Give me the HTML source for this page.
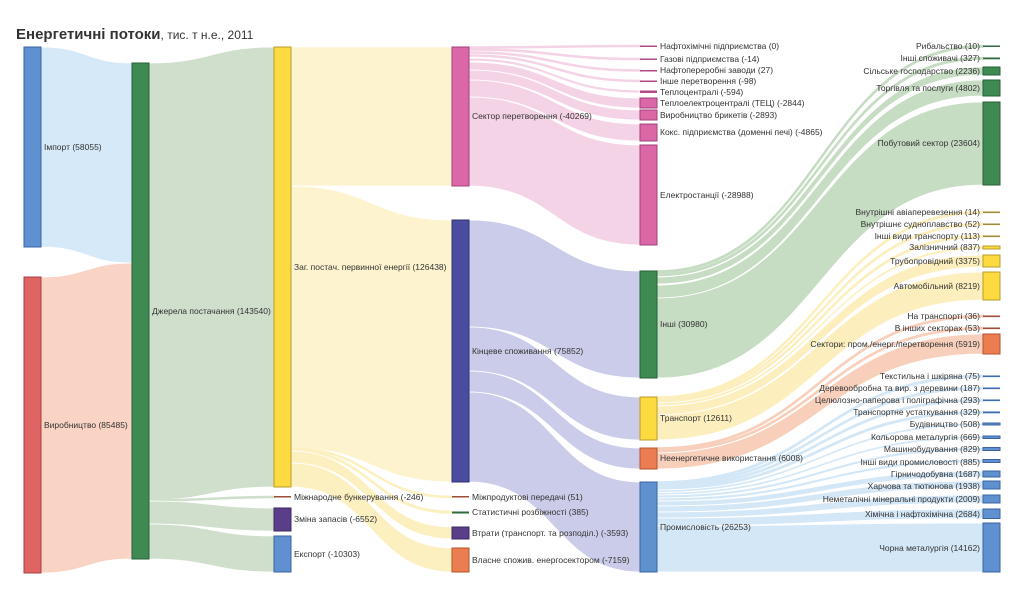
<!DOCTYPE html>
<html><head><meta charset="utf-8"><style>
body{margin:0;background:#fff}
svg{display:block;font-family:"Liberation Sans",Arial,sans-serif}
text{font-size:8.5px;fill:#333}
.l path{stroke:#fff;stroke-width:0.8}
.l path.t{stroke-width:1.6;stroke-opacity:1}
</style></head><body>
<svg width="1024" height="607" viewBox="0 0 1024 607">
<text x="16" y="39" style="font-size:15px;font-weight:bold;fill:#333">Енергетичні потоки<tspan style="font-size:12px;font-weight:normal">, тис. т н.е., 2011</tspan></text>
<g class="l">
<path fill="#d6e9f8" d="M41 47C86.5 47 86.5 63 132 63L132 263C86.5 263 86.5 247 41 247Z"/>
<path fill="#f9d3c4" d="M41 277C86.5 277 86.5 263 132 263L132 559C86.5 559 86.5 573 41 573Z"/>
<path fill="#cfdfcc" d="M149 63C211.5 63 211.5 47 274 47L274 487C211.5 487 211.5 500 149 500Z"/>
<path class="t" fill="#cfdfcc" style="stroke:#cfdfcc" d="M149 500C211.5 500 211.5 496.5 274 496.5L274 497.5C211.5 497.5 211.5 501 149 501Z"/>
<path fill="#cfdfcc" d="M149 501C211.5 501 211.5 508 274 508L274 531C211.5 531 211.5 524 149 524Z"/>
<path fill="#cfdfcc" d="M149 524C211.5 524 211.5 536 274 536L274 572C211.5 572 211.5 559 149 559Z"/>
<path fill="#fdf4cf" d="M291 47C371.5 47 371.5 47 452 47L452 186C371.5 186 371.5 186 291 186Z"/>
<path fill="#fdf4cf" d="M291 186C371.5 186 371.5 220 452 220L452 482C371.5 482 371.5 448 291 448Z"/>
<path class="t" fill="#fdf0c0" style="stroke:#fdf0c0" d="M291 448C371.5 448 371.5 496.5 452 496.5L452 497.5C371.5 497.5 371.5 449 291 449Z"/>
<path class="t" fill="#fdf0c0" style="stroke:#fdf0c0" d="M291 449.5C371.5 449.5 371.5 511.5 452 511.5L452 513C371.5 513 371.5 451 291 451Z"/>
<path fill="#fdf0c0" d="M291 451C371.5 451 371.5 527 452 527L452 539C371.5 539 371.5 463 291 463Z"/>
<path fill="#fdf0c0" d="M291 463C371.5 463 371.5 548 452 548L452 572C371.5 572 371.5 487 291 487Z"/>
<path class="t" fill="#f5d3e6" style="stroke:#f5d3e6" d="M469 47C554.5 47 554.5 45.5 640 45.5L640 46.5C554.5 46.5 554.5 48 469 48Z"/>
<path class="t" fill="#f5d3e6" style="stroke:#f5d3e6" d="M469 49C554.5 49 554.5 58.5 640 58.5L640 59.5C554.5 59.5 554.5 50 469 50Z"/>
<path class="t" fill="#f5d3e6" style="stroke:#f5d3e6" d="M469 52C554.5 52 554.5 70 640 70L640 71C554.5 71 554.5 53 469 53Z"/>
<path class="t" fill="#f5d3e6" style="stroke:#f5d3e6" d="M469 55C554.5 55 554.5 80.5 640 80.5L640 81.5C554.5 81.5 554.5 56 469 56Z"/>
<path fill="#f5d3e6" d="M469 58C554.5 58 554.5 90 640 90L640 93C554.5 93 554.5 61 469 61Z"/>
<path fill="#f5d3e6" d="M469 62C554.5 62 554.5 98 640 98L640 108C554.5 108 554.5 70 469 70Z"/>
<path fill="#f5d3e6" d="M469 70C554.5 70 554.5 110 640 110L640 120C554.5 120 554.5 80 469 80Z"/>
<path fill="#f5d3e6" d="M469 80C554.5 80 554.5 124 640 124L640 141C554.5 141 554.5 97 469 97Z"/>
<path fill="#f5d3e6" d="M469 97C554.5 97 554.5 145 640 145L640 245C554.5 245 554.5 186 469 186Z"/>
<path fill="#cbcce9" d="M469 220C554.5 220 554.5 271 640 271L640 378C554.5 378 554.5 327 469 327Z"/>
<path fill="#cbcce9" d="M469 327C554.5 327 554.5 397 640 397L640 440C554.5 440 554.5 371 469 371Z"/>
<path fill="#cbcce9" d="M469 371C554.5 371 554.5 448 640 448L640 469C554.5 469 554.5 392 469 392Z"/>
<path fill="#cbcce9" d="M469 392C554.5 392 554.5 482 640 482L640 572C554.5 572 554.5 482 469 482Z"/>
<path class="t" fill="#c6dcc3" style="stroke:#c6dcc3" d="M657 271C820 271 820 45.5 983 45.5L983 47C820 47 820 272.5 657 272.5Z"/>
<path class="t" fill="#c6dcc3" style="stroke:#c6dcc3" d="M657 274C820 274 820 57.5 983 57.5L983 59C820 59 820 275.5 657 275.5Z"/>
<path fill="#c6dcc3" d="M657 277C820 277 820 67 983 67L983 75C820 75 820 284 657 284Z"/>
<path fill="#c6dcc3" d="M657 285C820 285 820 80 983 80L983 96C820 96 820 298 657 298Z"/>
<path fill="#c6dcc3" d="M657 298C820 298 820 102 983 102L983 185C820 185 820 378 657 378Z"/>
<path class="t" fill="#fdefbd" style="stroke:#fdefbd" d="M657 397C820 397 820 211.5 983 211.5L983 212.8C820 212.8 820 398.3 657 398.3Z"/>
<path class="t" fill="#fdefbd" style="stroke:#fdefbd" d="M657 399C820 399 820 223.5 983 223.5L983 224.8C820 224.8 820 400.3 657 400.3Z"/>
<path class="t" fill="#fdefbd" style="stroke:#fdefbd" d="M657 401C820 401 820 235.5 983 235.5L983 236.8C820 236.8 820 402.3 657 402.3Z"/>
<path fill="#fdefbd" d="M657 403C820 403 820 246 983 246L983 249C820 249 820 406 657 406Z"/>
<path fill="#fdefbd" d="M657 406C820 406 820 255 983 255L983 267C820 267 820 415 657 415Z"/>
<path fill="#fdefbd" d="M657 415C820 415 820 272 983 272L983 300C820 300 820 440 657 440Z"/>
<path class="t" fill="#f8cfbb" style="stroke:#f8cfbb" d="M657 448C820 448 820 315.5 983 315.5L983 316.8C820 316.8 820 449.3 657 449.3Z"/>
<path class="t" fill="#f8cfbb" style="stroke:#f8cfbb" d="M657 450.5C820 450.5 820 327.5 983 327.5L983 328.8C820 328.8 820 451.8 657 451.8Z"/>
<path fill="#f8cfbb" d="M657 453C820 453 820 334 983 334L983 354C820 354 820 469 657 469Z"/>
<path class="t" fill="#d3e7f7" style="stroke:#d3e7f7" d="M657 482C820 482 820 375.5 983 375.5L983 376.8C820 376.8 820 483.3 657 483.3Z"/>
<path class="t" fill="#d3e7f7" style="stroke:#d3e7f7" d="M657 484C820 484 820 387.5 983 387.5L983 388.8C820 388.8 820 485.3 657 485.3Z"/>
<path class="t" fill="#d3e7f7" style="stroke:#d3e7f7" d="M657 486C820 486 820 399.5 983 399.5L983 400.8C820 400.8 820 487.3 657 487.3Z"/>
<path class="t" fill="#d3e7f7" style="stroke:#d3e7f7" d="M657 488C820 488 820 411.5 983 411.5L983 412.8C820 412.8 820 489.3 657 489.3Z"/>
<path fill="#d3e7f7" d="M657 490C820 490 820 423 983 423L983 425.5C820 425.5 820 492.5 657 492.5Z"/>
<path fill="#d3e7f7" d="M657 492.5C820 492.5 820 436 983 436L983 438.5C820 438.5 820 495 657 495Z"/>
<path fill="#d3e7f7" d="M657 495C820 495 820 447.5 983 447.5L983 450.5C820 450.5 820 498 657 498Z"/>
<path fill="#d3e7f7" d="M657 498C820 498 820 459.5 983 459.5L983 462.5C820 462.5 820 501 657 501Z"/>
<path fill="#d3e7f7" d="M657 501C820 501 820 471 983 471L983 477C820 477 820 506 657 506Z"/>
<path fill="#d3e7f7" d="M657 506C820 506 820 481 983 481L983 488C820 488 820 512 657 512Z"/>
<path fill="#d3e7f7" d="M657 512C820 512 820 495 983 495L983 503C820 503 820 518 657 518Z"/>
<path fill="#d3e7f7" d="M657 518C820 518 820 509 983 509L983 518.5C820 518.5 820 526 657 526Z"/>
<path fill="#d3e7f7" d="M657 526C820 526 820 523 983 523L983 572C820 572 820 572 657 572Z"/>
</g>
<g stroke-width="1">
<rect x="24" y="47" width="17" height="200" fill="#5f90cf" stroke="#3b64a0"/>
<rect x="24" y="277" width="17" height="296" fill="#e06464" stroke="#a84040"/>
<rect x="132" y="63" width="17" height="496" fill="#3f8a52" stroke="#2a6038"/>
<rect x="274" y="47" width="17" height="440" fill="#fcda40" stroke="#b89c2a"/>
<rect x="274" y="496" width="17" height="1.5" fill="#a04a3a" stroke="none"/>
<rect x="274" y="508" width="17" height="23" fill="#5b3e8a" stroke="#3d2860"/>
<rect x="274" y="536" width="17" height="36" fill="#5f90cf" stroke="#3b64a0"/>
<rect x="452" y="47" width="17" height="139" fill="#dc67a8" stroke="#a04278"/>
<rect x="452" y="220" width="17" height="262" fill="#4a4c9f" stroke="#303270"/>
<rect x="452" y="496" width="17" height="1.5" fill="#a04a3a" stroke="none"/>
<rect x="452" y="511.5" width="17" height="2" fill="#2f6a3c" stroke="none"/>
<rect x="452" y="527" width="17" height="12" fill="#5b3e8a" stroke="#3d2860"/>
<rect x="452" y="548" width="17" height="24" fill="#ec7d50" stroke="#b05530"/>
<g fill="#b04a88" stroke="none">
<rect x="640" y="45.5" width="17" height="1.5"/><rect x="640" y="58.5" width="17" height="1.5"/>
<rect x="640" y="70" width="17" height="1.5"/><rect x="640" y="80.5" width="17" height="1.5"/>
<rect x="640" y="90.5" width="17" height="2.5"/></g>
<g fill="#dc67a8" stroke="#a04278">
<rect x="640" y="98" width="17" height="10"/><rect x="640" y="110" width="17" height="10"/>
<rect x="640" y="124" width="17" height="17"/><rect x="640" y="145" width="17" height="100"/></g>
<rect x="640" y="271" width="17" height="107" fill="#3f8a52" stroke="#2a6038"/>
<rect x="640" y="397" width="17" height="43" fill="#fcda40" stroke="#b89c2a"/>
<rect x="640" y="448" width="17" height="21" fill="#ec7d50" stroke="#b05530"/>
<rect x="640" y="482" width="17" height="90" fill="#5f90cf" stroke="#3b64a0"/>
<g fill="#2f6a3c" stroke="none"><rect x="983" y="45.5" width="17" height="1.5"/><rect x="983" y="57.5" width="17" height="1.8"/></g>
<g fill="#3f8a52" stroke="#2a6038"><rect x="983" y="67" width="17" height="8"/><rect x="983" y="80" width="17" height="16"/><rect x="983" y="102" width="17" height="83"/></g>
<g fill="#a08a3a" stroke="none"><rect x="983" y="211.5" width="17" height="1.6"/><rect x="983" y="223.5" width="17" height="1.6"/><rect x="983" y="235.5" width="17" height="1.6"/></g>
<g fill="#fcda40" stroke="#b89c2a"><rect x="983" y="246" width="17" height="3"/><rect x="983" y="255" width="17" height="12"/><rect x="983" y="272" width="17" height="28"/></g>
<g fill="#a04a3a" stroke="none"><rect x="983" y="315.5" width="17" height="1.6"/><rect x="983" y="327.5" width="17" height="1.6"/></g>
<rect x="983" y="334" width="17" height="20" fill="#ec7d50" stroke="#b05530"/>
<g fill="#3a6bb0" stroke="none"><rect x="983" y="375.5" width="17" height="1.6"/><rect x="983" y="387.5" width="17" height="1.6"/><rect x="983" y="399.5" width="17" height="1.6"/><rect x="983" y="411.5" width="17" height="1.8"/></g>
<g fill="#5f90cf" stroke="#3b64a0"><rect x="983" y="423" width="17" height="2"/><rect x="983" y="436" width="17" height="2.5"/><rect x="983" y="447.5" width="17" height="3"/><rect x="983" y="459.5" width="17" height="3"/><rect x="983" y="471" width="17" height="6"/><rect x="983" y="481" width="17" height="8"/><rect x="983" y="495" width="17" height="8"/><rect x="983" y="509" width="17" height="9.5"/><rect x="983" y="523" width="17" height="49"/></g>
</g>
<g>
<text x="44" y="150">Імпорт (58055)</text>
<text x="44" y="428">Виробництво (85485)</text>
<text x="152" y="314">Джерела постачання (143540)</text>
<text x="294" y="270">Заг. постач. первинної енергії (126438)</text>
<text x="294" y="500">Міжнародне бункерування (-246)</text>
<text x="294" y="522">Зміна запасів (-6552)</text>
<text x="294" y="557">Експорт (-10303)</text>
<text x="472" y="119">Сектор перетворення (-40269)</text>
<text x="472" y="354">Кінцеве споживання (75852)</text>
<text x="472" y="500">Міжпродуктові передачі (51)</text>
<text x="472" y="515">Статистичні розбіжності (385)</text>
<text x="472" y="536">Втрати (транспорт. та розподіл.) (-3593)</text>
<text x="472" y="563">Власне спожив. енергосектором (-7159)</text>
<text x="660" y="49">Нафтохімічні підприємства (0)</text>
<text x="660" y="62">Газові підприємства (-14)</text>
<text x="660" y="73">Нафтопереробні заводи (27)</text>
<text x="660" y="84">Інше перетворення (-98)</text>
<text x="660" y="95">Теплоцентралі (-594)</text>
<text x="660" y="106">Теплоелектроцентралі (ТЕЦ) (-2844)</text>
<text x="660" y="118">Виробництво брикетів (-2893)</text>
<text x="660" y="135">Кокс. підприємства (доменні печі) (-4865)</text>
<text x="660" y="198">Електростанції (-28988)</text>
<text x="660" y="327">Інші (30980)</text>
<text x="660" y="421">Транспорт (12611)</text>
<text x="660" y="461">Неенергетичне використання (6008)</text>
<text x="660" y="530">Промисловість (26253)</text>
</g>
<g text-anchor="end">
<text x="980" y="49">Рибальство (10)</text>
<text x="980" y="61">Інші споживачі (327)</text>
<text x="980" y="74">Сільське господарство (2236)</text>
<text x="980" y="91">Торгівля та послуги (4802)</text>
<text x="980" y="146">Побутовий сектор (23604)</text>
<text x="980" y="215">Внутрішні авіаперевезення (14)</text>
<text x="980" y="227">Внутрішнє судноплавство (52)</text>
<text x="980" y="239">Інші види транспорту (113)</text>
<text x="980" y="250">Залізничний (837)</text>
<text x="980" y="264">Трубопровідний (3375)</text>
<text x="980" y="289">Автомобільний (8219)</text>
<text x="980" y="319">На транспорті (36)</text>
<text x="980" y="331">В інших секторах (53)</text>
<text x="980" y="347">Сектори: пром./енерг./перетворення (5919)</text>
<text x="980" y="379">Текстильна і шкіряна (75)</text>
<text x="980" y="391">Деревообробна та вир. з деревини (187)</text>
<text x="980" y="403">Целюлозно-паперова і поліграфічна (293)</text>
<text x="980" y="415">Транспортне устаткування (329)</text>
<text x="980" y="427">Будівництво (508)</text>
<text x="980" y="440">Кольорова металургія (669)</text>
<text x="980" y="452">Машинобудування (829)</text>
<text x="980" y="465">Інші види промисловості (885)</text>
<text x="980" y="477">Гірничодобувна (1687)</text>
<text x="980" y="489">Харчова та тютюнова (1938)</text>
<text x="980" y="502">Неметалічні мінеральні продукти (2009)</text>
<text x="980" y="517">Хімічна і нафтохімічна (2684)</text>
<text x="980" y="551">Чорна металургія (14162)</text>
</g>
</svg>
</body></html>
